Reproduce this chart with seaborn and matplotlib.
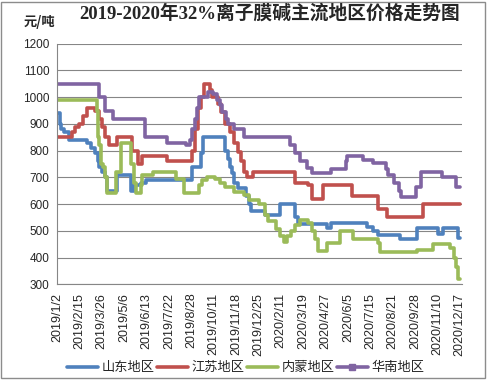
import numpy as np
import pandas as pd
import matplotlib
matplotlib.use('Agg')
import matplotlib.pyplot as plt
import matplotlib.dates as mdates
from matplotlib.lines import Line2D
from matplotlib.patches import Rectangle
import seaborn as sns

# x轴标签（类别轴，每27个交易日一个标签）
tick_dates = ['2019/1/2', '2019/2/15', '2019/3/26', '2019/5/6', '2019/6/13', '2019/7/22',
              '2019/8/28', '2019/10/11', '2019/11/18', '2019/12/25', '2020/2/11', '2020/3/19',
              '2020/4/27', '2020/6/5', '2020/7/15', '2020/8/21', '2020/9/28', '2020/11/10',
              '2020/12/17']

# 各地区价格变动点（日期, 元/吨）
shandong_dates = ['2019-01-02', '2019-01-07', '2019-01-10', '2019-01-16', '2019-01-25', '2019-02-28',
                  '2019-03-08', '2019-03-14', '2019-03-20', '2019-03-22', '2019-03-27', '2019-04-01',
                  '2019-04-04', '2019-04-23', '2019-05-17', '2019-05-23', '2019-06-04', '2019-06-12',
                  '2019-08-29', '2019-09-17', '2019-09-20', '2019-10-30', '2019-11-04', '2019-11-07',
                  '2019-11-11', '2019-11-14', '2019-11-21', '2019-12-05', '2019-12-10', '2019-12-13',
                  '2020-01-08', '2020-02-10', '2020-03-05', '2020-03-10', '2020-04-29', '2020-05-06',
                  '2020-07-10', '2020-07-20', '2020-07-27', '2020-09-03', '2020-10-02', '2020-11-11',
                  '2020-11-20', '2020-12-14', '2020-12-17']
shandong_prices = [940, 900, 880, 870, 840, 830, 810, 790, 760, 740, 720, 700, 650, 710, 650, 670,
                   680, 690, 740, 790, 850, 800, 770, 740, 715, 680, 660, 630, 600, 575, 560, 600,
                   550, 525, 510, 530, 515, 500, 485, 470, 510, 490, 510, 475, 475]

jiangsu_dates = ['2019-01-02', '2019-02-01', '2019-02-07', '2019-02-14', '2019-02-22', '2019-02-28',
                 '2019-03-15', '2019-03-21', '2019-03-27', '2019-04-01', '2019-04-09', '2019-04-23',
                 '2019-05-20', '2019-05-29', '2019-06-05', '2019-07-18', '2019-08-30', '2019-09-05',
                 '2019-09-11', '2019-09-17', '2019-09-23', '2019-10-03', '2019-10-07', '2019-10-18',
                 '2019-10-23', '2019-10-31', '2019-11-07', '2019-11-15', '2019-11-21', '2019-11-26',
                 '2019-12-02', '2019-12-06', '2019-12-16', '2020-03-05', '2020-03-27', '2020-04-03',
                 '2020-04-22', '2020-06-12', '2020-07-28', '2020-08-12', '2020-10-14', '2020-12-17']
jiangsu_prices = [850, 870, 890, 900, 930, 960, 950, 920, 890, 850, 820, 850, 800, 750, 780, 760,
                  800, 880, 960, 1000, 1050, 1025, 1000, 975, 945, 900, 870, 830, 795, 760, 720, 700,
                  720, 680, 670, 620, 670, 630, 580, 550, 600, 600]

neimeng_dates = ['2019-01-02', '2019-03-18', '2019-03-20', '2019-03-22', '2019-03-25', '2019-03-29',
                 '2019-04-01', '2019-04-04', '2019-04-22', '2019-04-30', '2019-05-17', '2019-05-22',
                 '2019-05-27', '2019-06-04', '2019-06-06', '2019-06-24', '2019-08-02', '2019-08-16',
                 '2019-09-12', '2019-09-19', '2019-09-27', '2019-10-14', '2019-10-21', '2019-10-30',
                 '2019-11-15', '2019-12-02', '2019-12-10', '2019-12-27', '2020-01-08', '2020-01-14',
                 '2020-01-31', '2020-02-09', '2020-02-17', '2020-02-21', '2020-02-28', '2020-03-06',
                 '2020-03-13', '2020-03-27', '2020-04-03', '2020-04-08', '2020-04-14', '2020-04-29',
                 '2020-05-22', '2020-06-15', '2020-07-27', '2020-07-31', '2020-10-02', '2020-11-02',
                 '2020-12-01', '2020-12-07', '2020-12-10', '2020-12-14', '2020-12-17']
neimeng_prices = [990, 950, 850, 820, 750, 740, 700, 640, 720, 830, 750, 680, 640, 670, 710, 720,
                  695, 640, 670, 690, 700, 695, 680, 665, 645, 635, 615, 600, 560, 535, 505, 480,
                  460, 480, 500, 520, 540, 530, 500, 470, 425, 455, 500, 470, 455, 420, 430, 450,
                  435, 400, 365, 320, 320]

huanan_dates = ['2019-01-02', '2019-03-22', '2019-04-01', '2019-04-15', '2019-06-10', '2019-07-19',
                '2019-08-20', '2019-08-26', '2019-08-30', '2019-09-05', '2019-09-09', '2019-09-12',
                '2019-09-30', '2019-10-09', '2019-10-16', '2019-10-21', '2019-10-25', '2019-11-01',
                '2019-11-04', '2019-11-15', '2019-12-02', '2020-02-26', '2020-03-05', '2020-03-13',
                '2020-03-25', '2020-04-03', '2020-05-06', '2020-06-01', '2020-06-03', '2020-07-02',
                '2020-07-20', '2020-08-10', '2020-08-14', '2020-08-24', '2020-08-31', '2020-09-04',
                '2020-09-29', '2020-10-09', '2020-11-18', '2020-12-10', '2020-12-17']
huanan_prices = [1050, 1000, 950, 920, 850, 830, 820, 840, 880, 920, 960, 1000, 1020, 1010, 990,
                 970, 945, 920, 900, 880, 850, 820, 790, 760, 735, 715, 730, 760, 780, 765, 755,
                 730, 710, 680, 650, 625, 665, 720, 700, 665, 665]

regions = ['山东地区', '江苏地区', '内蒙地区', '华南地区']
colors = ['#4F81BD', '#C0504D', '#9BBB59', '#8064A2']

frames = []
for name, d, p in zip(regions,
                      [shandong_dates, jiangsu_dates, neimeng_dates, huanan_dates],
                      [shandong_prices, jiangsu_prices, neimeng_prices, huanan_prices]):
    frames.append(pd.DataFrame({'date': pd.to_datetime(d), 'price': p, 'region': name}))
df = pd.concat(frames, ignore_index=True)

# 类别轴：标签等距排列，日期按所在标签区间定位
tick_num = mdates.date2num(pd.to_datetime(tick_dates, format='%Y/%m/%d').to_numpy())
df['pos'] = np.interp(mdates.date2num(df['date'].to_numpy()), tick_num, np.arange(len(tick_dates)))

sns.set_style('white')
plt.rcParams['font.family'] = ['Liberation Sans', 'Noto Sans CJK SC']

W, H = 492, 382
fig = plt.figure(figsize=(W / 100, H / 100), dpi=100)
ax = fig.add_axes([57 / W, 1 - 284.3 / H, (462 - 57) / W, (284.3 - 43.7) / H])

sns.lineplot(data=df, x='pos', y='price', hue='region', hue_order=regions, palette=colors,
             drawstyle='steps-post', linewidth=2.6, estimator=None, legend=False, ax=ax)

grey = '#868686'
ax.set_ylim(300, 1200)
ax.set_yticks(range(300, 1201, 100))
ax.set_xlim(0, 18.1)
ax.set_xticks(np.arange(len(tick_dates)))
ax.set_xticklabels(tick_dates, rotation=90)
ax.set_xticks(np.arange(0, 18.1, 4 / 27), minor=True)
ax.grid(axis='y', color=grey, linewidth=0.8)
ax.set_axisbelow(True)
for s in ['top', 'right']:
    ax.spines[s].set_visible(False)
for s in ['left', 'bottom']:
    ax.spines[s].set_color(grey)
    ax.spines[s].set_linewidth(0.8)
ax.tick_params(axis='both', which='both', direction='out', length=3.5, width=0.8,
               color=grey, labelsize=8.5, pad=2)
ax.tick_params(axis='x', labelsize=9, pad=2.5)
ax.set_xlabel('')
ax.set_ylabel('')

handles = [Line2D([], [], color=c, lw=2.6) for c in colors]
handles[3].set_marker('s')
handles[3].set_markersize(5)
fig.legend(handles, regions, loc='center', bbox_to_anchor=(0.5, 1 - 368 / H), ncol=4,
           frameon=False, fontsize=9.5, handlelength=2.3, handletextpad=0.3, columnspacing=0.2)

fig.text(0.548, 0.966, '2019-2020年32%离子膜碱主流地区价格走势图', ha='center', va='center',
         fontsize=13.5, fontweight='bold', family=['Liberation Serif', 'Noto Sans CJK SC'])
fig.text(0.08, 0.942, '元/吨', ha='center', va='center', fontsize=9.5, fontweight='bold',
         family=['Noto Sans CJK SC'])

fig.add_artist(Rectangle((1 / W, 1 - 378 / H), 484 / W, 376 / H, transform=fig.transFigure,
                         fill=False, edgecolor='#8c8c8c', linewidth=1))

fig.savefig('out.png', dpi=100)
